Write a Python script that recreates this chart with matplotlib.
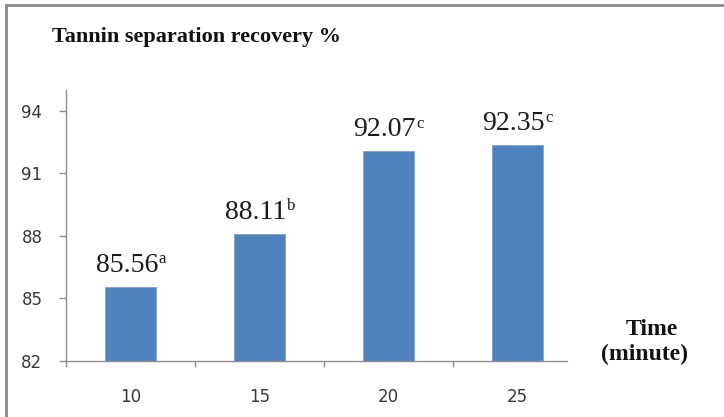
import matplotlib
matplotlib.use("Agg")
import matplotlib.pyplot as plt
from matplotlib.lines import Line2D
from matplotlib.transforms import offset_copy
import numpy as np

times = ["10", "15", "20", "25"]
recovery = [85.56, 88.11, 92.07, 92.35]
letters = ["a", "b", "c", "c"]
yticks = [82, 85, 88, 91, 94]

fig = plt.figure(figsize=(7.24, 4.17), dpi=100, facecolor='white')
ax = fig.add_axes([66 / 724, 1 - 361 / 417, 516 / 724, (361 - 90) / 417])

x = np.arange(len(times))
bars = ax.bar(x, recovery, width=0.395, color='#4F81BD', edgecolor='#7EA3D3',
              linewidth=0.6)

ax.set_ylim(82, 95)
ax.set_xlim(-0.5, 3.5)

grey = '#8c8c8c'
ax.set_yticks(yticks)
ax.set_yticklabels([str(t) for t in yticks])
ax.tick_params(axis='y', direction='out', length=5, width=1, color=grey, pad=12,
               labelsize=12, labelcolor='#383838')

ax.set_xticks(np.arange(-0.5, 3.0, 1.0))
ax.set_xticklabels([])
ax.set_xticks(x, minor=True)
ax.set_xticklabels(times, minor=True)
ax.tick_params(axis='x', which='major', direction='out', length=4.5, width=1, color=grey)
ax.tick_params(axis='x', which='minor', length=0, pad=19.5, labelsize=12, labelcolor='#383838')

for s in ['top', 'right']:
    ax.spines[s].set_visible(False)
for s in ['left', 'bottom']:
    ax.spines[s].set_color(grey)
    ax.spines[s].set_linewidth(1)
ax.spines['bottom'].set_bounds(-0.5, 3.384)
for lab in ax.get_xticklabels(minor=True) + ax.get_yticklabels():
    lab.set_family('DejaVu Sans')

# value labels with significance letters as small superscripts
fig.canvas.draw()
renderer = fig.canvas.get_renderer()
for xi, v, let in zip(x, recovery, letters):
    num = ax.text(xi, v, f"{v:.2f}", fontsize=20, family='Liberation Serif',
                  color='#1a1a1a', ha='center', va='baseline')
    sup = ax.text(xi, v, let, fontsize=12, family='Liberation Serif',
                  color='#1a1a1a', ha='left', va='baseline')
    wn = num.get_window_extent(renderer).width
    ws = sup.get_window_extent(renderer).width
    shift = -ws / 2 * 72 / fig.dpi
    num.set_transform(offset_copy(ax.transData, fig=fig, x=shift, y=10.8, units='points'))
    sup.set_transform(offset_copy(ax.transData, fig=fig, x=shift + wn / 2 * 72 / fig.dpi + 0.5,
                                  y=10.8 + 6.0, units='points'))

fig.text(52 / 724, 1 - 42 / 417, "Tannin separation recovery %", fontsize=16,
         fontweight='bold', family='Liberation Serif', color='#111111', va='baseline')
fig.text(652 / 724, 1 - 335 / 417, "Time", fontsize=17, fontweight='bold',
         family='Liberation Serif', color='#111111', ha='center', va='baseline')
fig.text(645 / 724, 1 - 360 / 417, "(minute)", fontsize=17, fontweight='bold',
         family='Liberation Serif', color='#111111', ha='center', va='baseline')

# frame of the chart area (top and left visible)
fig.add_artist(Line2D([6 / 724, 6 / 724], [0, 1 - 5 / 417], transform=fig.transFigure,
                      color='#888888', linewidth=2))
fig.add_artist(Line2D([6 / 724, 1], [1 - 5 / 417, 1 - 5 / 417], transform=fig.transFigure,
                      color='#888888', linewidth=2))

fig.savefig("out.png", dpi=100, facecolor='white')
